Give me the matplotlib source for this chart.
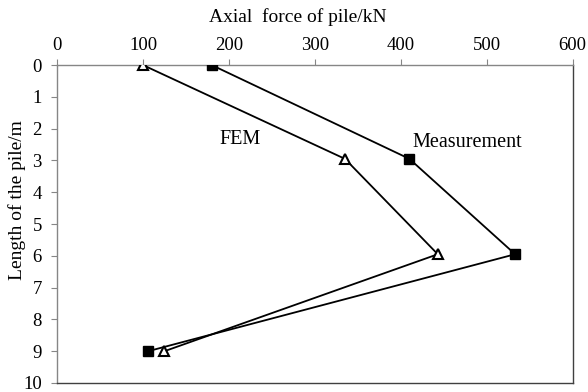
import matplotlib
matplotlib.use("Agg")
import matplotlib.pyplot as plt

plt.rcParams['font.family'] = ['Liberation Serif', 'DejaVu Serif']

depth = [0, 2.95, 5.95, 9]
measurement = [180, 410, 533, 106]
fem = [100, 335, 443, 125]

xticks = [0, 100, 200, 300, 400, 500, 600]
yticks = list(range(0, 11))

fig = plt.figure(figsize=(5.88, 3.92), dpi=100)
ax = fig.add_axes([0.097, 0.023, 0.877, 0.811])

ax.plot(measurement, depth, color='black', lw=1.3, marker='s', ms=7,
        mfc='black', mec='black', zorder=3)
ax.plot(fem, depth, color='black', lw=1.3, marker='^', ms=7,
        mfc='white', mec='black', mew=1.5, zorder=3)

ax.set_xlim(0, 600)
ax.set_ylim(10, 0)
ax.set_xticks(xticks)
ax.set_yticks(yticks)
ax.xaxis.tick_top()
ax.tick_params(axis='x', direction='out', length=4, color='#868686',
               labelsize=13.5, pad=4)
ax.tick_params(axis='y', direction='out', length=4, color='#868686',
               labelsize=13.5, pad=7)

for s in ['top', 'left']:
    ax.spines[s].set_color('#868686')
ax.spines['right'].set_color('#404040')
ax.spines['bottom'].set_color('#404040')
for s in ax.spines.values():
    s.set_linewidth(1.0)

fig.text(298 / 588, 1 - 17 / 392, 'Axial  force of pile/kN', ha='center',
         va='center', fontsize=14)
fig.text(17 / 588, 1 - 200 / 392, 'Length of the pile/m', ha='center',
         va='center', rotation=90, fontsize=14)

ax.text(240 / 0.86 - 57 / 0.86, 2.35, 'FEM', ha='center', va='center', fontsize=14.5)
ax.text(413, 2.45, 'Measurement', ha='left', va='center', fontsize=14.5)

fig.savefig('out.png', dpi=100)
